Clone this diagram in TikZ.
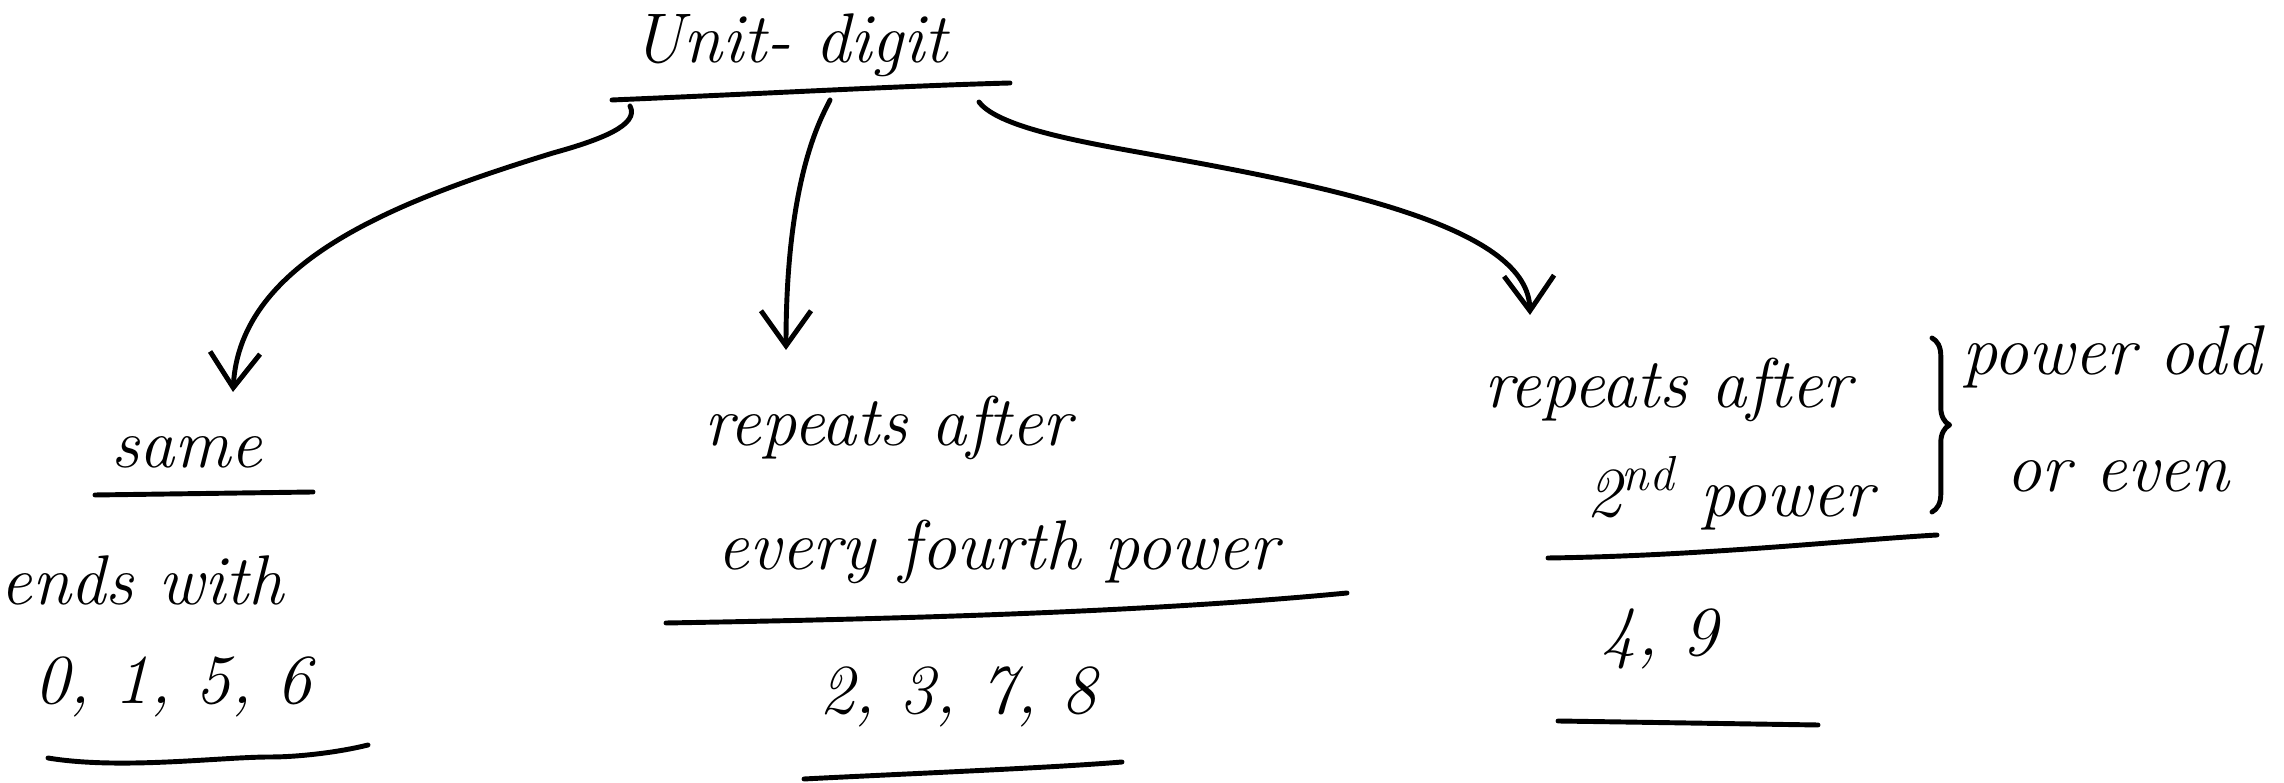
\documentclass[tikz,border=0pt]{standalone}
\usetikzlibrary{arrows.meta,decorations.pathreplacing}
\begin{document}
\begin{tikzpicture}[x=0.01cm,y=-0.01cm,
  ink/.style={line width=1.4pt, line cap=round, line join=round},
  link/.style={ink,-{Straight Barb[length=3.5mm,width=5mm,line width=1.4pt]}},
  hand/.style={font=\fontsize{20}{24}\selectfont\itshape, inner sep=0pt, align=center}]
\useasboundingbox (0,0) rectangle (2284,783);

% headings and labels
\node[hand] (title) at (790,45) {Unit- digit};
\node[hand] (same)  at (187,452) {same};
\node[hand] (ends)  at (142,580) {ends with};
\node[hand] (set1)  at (173,687) {0, 1, 5, 6};
\node[hand] (rep4)  at (888,428) {repeats after};
\node[hand] (four)  at (998,552) {every fourth power};
\node[hand] (set2)  at (958,697) {2, 3, 7, 8};
\node[hand] (rep2a) at (1668,390) {repeats after};
\node[hand] (rep2b) at (1730,493) {2\textsuperscript{nd} power};
\node[hand] (odd)   at (2112,357) {power odd};
\node[hand] (even)  at (2118,476) {or even};
\node[hand] (set3)  at (1660,639) {4, 9};

% underlines
\draw[ink] (612,100) .. controls (800,92) and (900,86) .. (1010,83);
\draw[ink] (95,495) -- (313,492);
\draw[ink] (48,758) .. controls (120,770) and (220,757) .. (270,757)
           .. controls (300,757) and (340,752) .. (368,745);
\draw[ink] (666,623) .. controls (900,619) and (1150,612) .. (1347,593);
\draw[ink] (804,779) .. controls (900,774) and (1050,768) .. (1122,762);
\draw[ink] (1548,558) .. controls (1700,556) and (1850,540) .. (1937,535);
\draw[ink] (1558,721) -- (1818,725);

% brace grouping the right-hand pair of lines
\coordinate (bt) at (1932,338);
\coordinate (bb) at (1932,512);
\draw[ink, decorate, decoration={brace, amplitude=5pt}] (bt) -- (bb);

% arrows from the heading
\coordinate (a1s) at (630,106);
\coordinate (a1e) at (233,392);
\coordinate (a2s) at (830,100);
\coordinate (a2e) at (786,350);
\coordinate (a3s) at (979,102);
\coordinate (a3e) at (1530,315);
\draw[link] (a1s) .. controls (640,125) and (600,140) .. (553,153)
            .. controls (400,200) and (240,260) .. (a1e);
\draw[link] (a2s) .. controls (825,112) and (786,170) .. (a2e);
\draw[link] (a3s) .. controls (1000,130) and (1100,145) .. (1165,157)
            .. controls (1350,190) and (1528,230) .. (a3e);
\end{tikzpicture}
\end{document}
